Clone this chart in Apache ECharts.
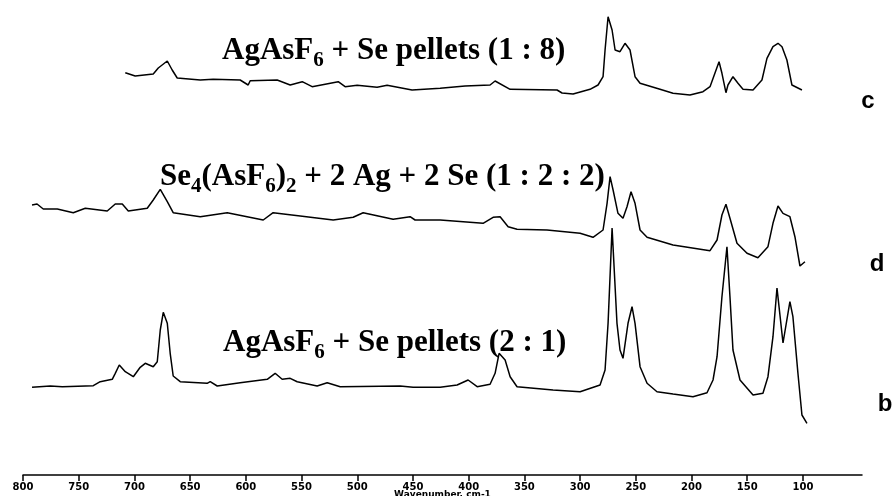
<!DOCTYPE html>
<html>
<head>
<meta charset="utf-8">
<script src="https://cdn.jsdelivr.net/npm/echarts@6/dist/echarts.min.js"></script>
<style>html,body{margin:0;padding:0;background:#fff}#c{width:895px;height:496px}</style>
</head>
<body>
<div id="c"></div>
<script>
const waveTicks = [800,750,700,650,600,550,500,450,400,350,300,250,200,150,100];

const cWave = [708.2,699.3,683.1,678.6,670.5,666.1,661.6,640.9,629.3,605.1,597.9,596.1,571.9,560.2,549.4,540.5,517.1,510.9,500.1,482.2,473.2,450.8,425.6,403.2,380.8,376.3,362.8,320.7,316.2,306.3,291.1,283.9,279.4,277.6,274.9,271.3,268.6,264.2,259.7,255.2,250.7,246.2,228.3,216.6,201.4,189.7,183.4,175.3,172.7,169.1,167.3,162.8,158.3,153.8,144.8,136.8,132.3,126.9,122.4,118.8,114.4,109.9,100.9];
const cInt = [402.3,399,401,407,414,405,397,395,395.7,395,390,394.3,395,390,393.3,388.3,393.3,388.3,389.7,387.7,389.7,385,386.7,389,390,394,385.7,385,382,381,385.7,390,398.3,425,458.3,445,425,423.3,431.7,425,398.3,391.7,385.7,381.7,380,383.3,388.3,413.3,401.7,382.3,390,398.3,391.7,385.7,385,395,416.7,428.3,431.7,428.3,415,390,385];

const dWave = [791.9,787.4,781.8,769.2,754.9,744.1,724.4,717.2,710.9,705.5,688.5,683.1,676.8,670.5,665.2,640.9,616.7,584.4,575.5,551.2,521.6,503.7,494.7,467.8,452.6,448.1,425.6,387.1,378.1,371.8,364.6,356.6,329.7,300,288.4,279.4,275.8,273.1,270.4,266,261.5,257.9,254.3,250.7,246.2,239.9,216.6,183.4,177.1,172.7,169.1,165.5,159.2,150.2,140.4,131.4,126.9,122.4,117.9,111.7,107.2,102.7,98.2];
const dInt = [270,271,266,266,262.3,266.7,264,271,271,264,266.7,275,285.7,273.3,262.3,258.3,262.3,255,262.3,259,255,257.7,262.3,255.7,258.3,255,255,251.7,257.7,258.3,248.3,245.7,245,241.7,237.7,245,271.7,298.3,285,261.7,256.7,268.3,283.3,271.7,245,237.7,230,224.3,235,260,270.7,256.7,231.7,221.7,217.3,228.3,251.7,269,261.7,258.3,238.3,209,213.3];

const bWave = [791.9,775.5,764.7,736.9,730.7,719.9,717.2,713.6,708.2,701,694.8,690.3,683.1,679.5,676.8,674.1,670.5,667.9,665.2,658.9,634.7,632,625.7,605.1,580.8,573.7,567.4,560.2,553.9,536,527,515.3,461.5,449.9,425.6,410.4,400.5,392.4,380.8,376.3,372.7,367.3,362.8,356.6,324.3,300,282.1,277.6,274.9,271.3,266.9,264.2,261.5,257,253.4,250.7,246.2,239.9,231,216.6,198.7,186.1,180.7,177.1,172.7,168.2,165.5,162.8,156.5,144.8,135.9,131.4,126.9,123.3,117.9,111.7,109,104.5,100.9,96.4];
const bInt = [87.7,89,88.3,89.3,93.3,95.7,101.7,110,103.3,98.3,107.7,111.7,108.3,113.3,145,162.7,151.7,121.7,99,93.3,91.7,93.3,89,92.3,95.7,101.7,95.7,96.7,93.3,89,92.3,88.3,89,87.7,87.7,90,95,88.3,90.7,101.7,121.7,115,98.3,88.3,85,83.3,90,105,151.7,247,151.7,125,116.7,151.7,168.3,151.7,108.3,91.7,83.3,81,78.3,82.3,95,118.3,178.3,228.3,178.3,125,95,80,81.7,98.3,138.3,187,132,173.3,158.3,101.7,60,51.7];

const zip = (xs, ys) => xs.map((x, i) => [x, ys[i]]);

const serifRich = {
  n: {fontFamily: 'Liberation Serif', fontWeight: 'bold', fontSize: 31, lineHeight: 36, color: '#000'},
  s: {fontFamily: 'Liberation Serif', fontWeight: 'bold', fontSize: 21, height: 16, verticalAlign: 'bottom', color: '#000'}
};

const chart = echarts.init(document.getElementById('c'), null, {renderer: 'canvas'});
const lineStyle = {color: '#000', width: 1.5};
chart.setOption({
  animation: false,
  backgroundColor: '#fff',
  grid: {left: 23, right: 33, top: 0, bottom: 21, containLabel: false, outerBoundsMode: 'none'},
  xAxis: {
    type: 'value', inverse: true, min: 47, max: 800,
    axisLine: {show: true, onZero: false, lineStyle: {color: '#000', width: 1.5}},
    axisTick: {show: true, customValues: waveTicks, length: 6, lineStyle: {color: '#000', width: 1.5}},
    axisLabel: {customValues: waveTicks, fontSize: 10, fontFamily: 'DejaVu Sans', fontWeight: 'bold', color: '#000', margin: 7},
    splitLine: {show: false},
    name: 'Wavenumber, cm-1', nameLocation: 'middle', nameGap: 15, nameMoveOverlap: false,
    nameTextStyle: {fontSize: 9, fontFamily: 'DejaVu Sans', fontWeight: 'bold', color: '#000', verticalAlign: 'top'}
  },
  yAxis: {type: 'value', min: 0, max: 475, show: false},
  series: [
    {type: 'line', name: 'c', data: zip(cWave, cInt), showSymbol: false, lineStyle: lineStyle, silent: true},
    {type: 'line', name: 'd', data: zip(dWave, dInt), showSymbol: false, lineStyle: lineStyle, silent: true},
    {type: 'line', name: 'b', data: zip(bWave, bInt), showSymbol: false, lineStyle: lineStyle, silent: true}
  ],
  graphic: [
    {type: 'text', x: 222, y: 33, style: {text: '{n|AgAsF}{s|6}{n| + Se pellets (1 : 8)}', rich: serifRich, align: 'left', verticalAlign: 'top'}},
    {type: 'text', x: 160, y: 159, style: {text: '{n|Se}{s|4}{n|(AsF}{s|6}{n|)}{s|2}{n| + 2 Ag + 2 Se (1 : 2 : 2)}', rich: serifRich, align: 'left', verticalAlign: 'top'}},
    {type: 'text', x: 223, y: 325, style: {text: '{n|AgAsF}{s|6}{n| + Se pellets (2 : 1)}', rich: serifRich, align: 'left', verticalAlign: 'top'}},
    {type: 'text', x: 868, y: 101, style: {text: 'c', fontFamily: 'Liberation Sans', fontWeight: 'bold', fontSize: 24, fill: '#000', align: 'center', verticalAlign: 'middle'}},
    {type: 'text', x: 877, y: 264, style: {text: 'd', fontFamily: 'Liberation Sans', fontWeight: 'bold', fontSize: 24, fill: '#000', align: 'center', verticalAlign: 'middle'}},
    {type: 'text', x: 885, y: 404, style: {text: 'b', fontFamily: 'Liberation Sans', fontWeight: 'bold', fontSize: 24, fill: '#000', align: 'center', verticalAlign: 'middle'}}
  ]
});
</script>
</body>
</html>
